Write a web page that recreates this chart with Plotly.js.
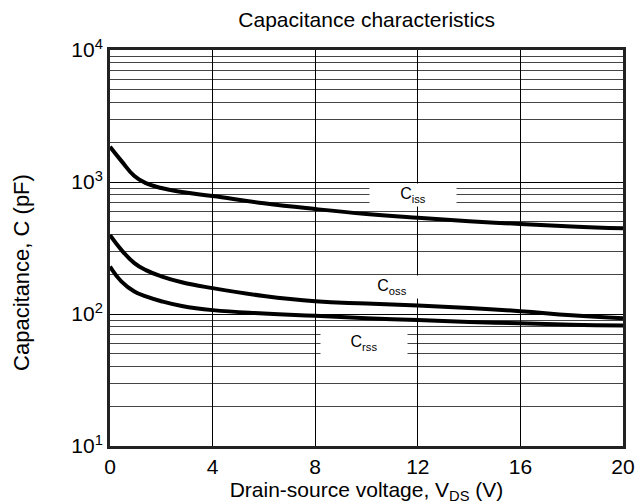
<!DOCTYPE html>
<html><head><meta charset="utf-8">
<script src="https://cdn.plot.ly/plotly-3.0.1.min.js"></script>
<style>body{margin:0;background:#fff}#c{width:640px;height:504px}</style>
</head><body><div id="c"></div>
<script>
var vds  = [0, 0.45, 0.95, 1.4, 2, 2.8, 4, 6, 8, 10, 12, 14, 16, 18, 20];
var ciss = [1850, 1440, 1110, 980, 900, 840, 783, 690, 624, 572, 535, 505, 481, 461, 446];
var coss = [396, 305, 243, 215, 193, 174, 157, 137, 125, 120, 116, 111, 105, 98, 93];
var crss = [229, 176, 148, 136, 125, 115, 107, 101, 97, 93, 90, 87, 85, 83, 82];
var yTickVals = [10, 100, 1000, 10000];
var yTickText = ['10<sup>1</sup>', '10<sup>2</sup>', '10<sup>3</sup>', '10<sup>4</sup>'];
var labels = ['C<sub>iss</sub>', 'C<sub>oss</sub>', 'C<sub>rss</sub>'];
var labelX = [11.8, 11.0, 9.9];
var labelY = [800, 160, 60];
var yTitle = 'Capacitance, C (pF)';

var line = {color: '#000', width: 4, shape: 'spline', smoothing: 1.3};
var traces = [ciss, coss, crss].map(function (s) {
  return {x: vds, y: s, mode: 'lines', line: line, hoverinfo: 'skip', showlegend: false};
});
var ann = labels.map(function (t, i) {
  return {x: labelX[i], y: Math.log10(labelY[i]), text: t, showarrow: false,
    bgcolor: '#fff', width: 84, height: 20, font: {size: 16, color: '#000', family: 'Liberation Sans, Arial'}};
});
ann.push({xref: 'paper', yref: 'paper', x: -0.1715, y: 0.437, xanchor: 'center', yanchor: 'middle',
  text: yTitle, textangle: -90, showarrow: false, font: {size: 22, color: '#000'}});
var layout = {
  width: 640, height: 504,
  margin: {l: 110, r: 17, t: 50, b: 58},
  paper_bgcolor: '#fff', plot_bgcolor: '#fff',
  font: {family: 'Liberation Sans, Arial, sans-serif', color: '#000'},
  title: {text: 'Capacitance characteristics', x: 0.573, xanchor: 'center', y: 0.962, yanchor: 'middle', font: {size: 21}},
  xaxis: {range: [0, 20], dtick: 4, tick0: 0, showgrid: true, gridcolor: '#000', gridwidth: 1,
    zeroline: false, showline: true, mirror: true, linecolor: '#222', linewidth: 3, ticks: '',
    tickfont: {size: 21}, title: {text: 'Drain-source voltage, V<sub>DS</sub> (V)', font: {size: 21}, standoff: 2}},
  yaxis: {type: 'log', range: [1, 4], tickmode: 'array', tickvals: yTickVals, ticktext: yTickText,
    showgrid: true, gridcolor: '#000', gridwidth: 1,
    minor: {dtick: 'D1', showgrid: true, gridcolor: '#444', gridwidth: 1, ticks: ''},
    zeroline: false, showline: true, mirror: true, linecolor: '#222', linewidth: 3, ticks: '',
    tickfont: {size: 21}},
  annotations: ann
};
Plotly.newPlot('c', traces, layout, {staticPlot: true});
</script></body></html>
